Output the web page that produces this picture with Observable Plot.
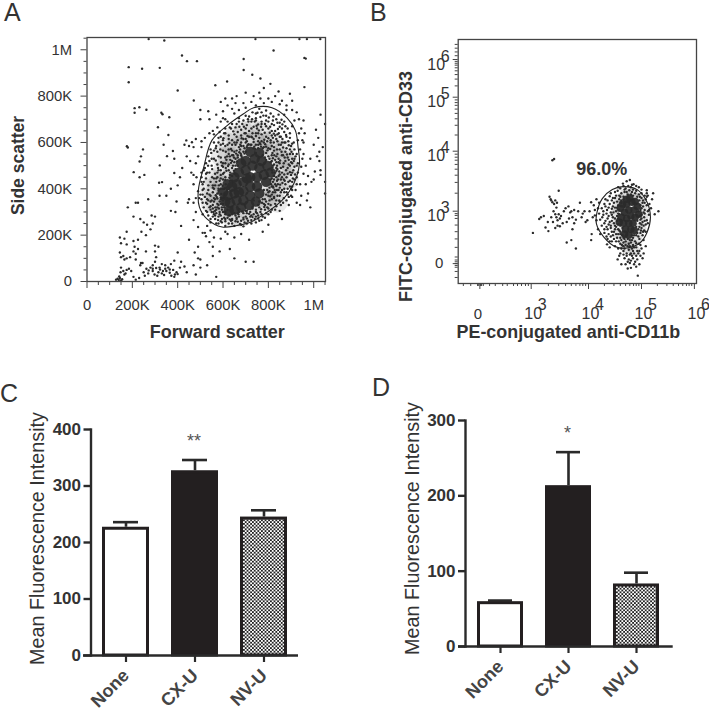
<!DOCTYPE html>
<html><head><meta charset="utf-8">
<script src="https://cdn.jsdelivr.net/npm/d3@7"></script>
<script src="https://cdn.jsdelivr.net/npm/@observablehq/plot@0.6"></script>
<style>
html,body{margin:0;padding:0;background:#fff}
#page{position:relative;width:709px;height:711px;overflow:hidden;font-family:"Liberation Sans",sans-serif}
.panel{position:absolute}
.letter{position:absolute;font-size:25px;color:#333;line-height:25px}
</style></head><body><div id="page"></div>
<script>
// Panel A: forward scatter / side scatter, read in thousands
const aTicks=[0,200,400,600,800,1000];
const aTickLabels=["0","200K","400K","600K","800K","1M"];
const aMinorTicks=[50,100,150,250,300,350,450,500,550,650,700,750,850,900,950,1050];
const aGate=[[735,750],[816,750],[882,706],[919,652],[931,580],[937,508],[912,422],[860,350],[794,299],[721,256],[662,242],[596,235],[529,270],[496,321],[491,393],[515,494],[551,609],[618,673],[691,724]];
const aHalo=[[700,600],[740,610],[780,600],[660,580],[620,540],[640,500],[600,480],[580,430],[560,380],[570,330],[600,300],[640,275],[680,275],[720,295],[760,310],[800,345],[830,390],[850,430],[860,480],[850,530],[830,570],[810,610],[770,650],[730,660],[690,650],[650,630],[880,520],[870,570],[590,540],[620,600],[700,540],[650,540],[760,570],[800,550],[600,420],[820,450],[800,400],[790,360],[610,330],[560,440],[540,400],[545,340],[900,500],[890,440],[840,340]];
const aCore=[[700,480],[730,500],[760,490],[720,450],[750,450],[690,430],[660,420],[720,410],[690,390],[650,380],[620,370],[660,350],[630,340],[690,350],[720,370],[750,410],[780,460],[740,530],[700,520],[670,470],[640,410],[610,345],[650,310],[680,320],[715,330],[600,385],[770,520],[790,430],[760,380],[650,450],[680,510],[720,560],[760,555],[795,500],[620,420],[745,345],[625,305],[810,470],[670,385],[705,445]];
const aLow=[[140,7],[135,12],[145,15],[150,5],[128,8],[155,10],[142,22],[148,40],[160,45],[170,35],[175,50],[185,55],[150,60],[165,30],[195,45],[205,20],[230,15],[215,8],[250,40],[262,55],[270,35],[280,60],[290,45],[298,30],[305,58],[315,40],[322,52],[330,35],[340,28],[350,45],[358,60],[365,38],[372,25],[380,50],[388,30],[395,40],[345,55],[310,25],[272,48],[255,25],[400,32],[385,20],[365,52],[335,45],[290,55],[245,80],[235,70],[150,105],[160,110],[175,100],[145,125],[165,95],[190,105],[205,130],[225,140],[215,95],[238,80],[260,130],[300,155],[315,150],[305,105],[300,85],[330,75],[345,70],[370,75],[385,90],[400,125],[415,85],[440,40],[480,30],[470,70],[500,60],[530,70],[555,110],[570,20],[490,100],[475,125],[430,65],[145,190],[165,185],[150,165],[175,160],[175,215],[210,150],[205,175],[225,180],[240,215],[260,200],[280,225],[290,250],[265,245],[250,255],[235,270],[205,280],[215,340],[180,320],[225,340],[270,355],[320,370],[285,285],[300,280],[370,305],[390,300],[415,240],[450,180],[445,340],[450,355],[490,150],[500,95],[215,120],[300,130],[290,70],[320,60],[410,60]];
const aSparse=[[272,1046],[341,1040],[743,1046],[937,1046],[970,1046],[1029,1046],[419,975],[441,951],[485,951],[823,997],[959,965],[965,962],[691,960],[184,925],[243,918],[321,922],[691,913],[729,892],[765,876],[184,860],[618,863],[566,847],[809,853],[959,839],[400,824],[471,781],[210,748],[231,752],[210,728],[262,741],[328,728],[333,722],[363,709],[176,584],[180,578],[247,570],[238,540],[232,518],[321,501],[206,472],[253,460],[232,450],[331,429],[318,426],[385,468],[338,590],[379,563],[353,541],[359,632],[313,666],[438,609],[463,601],[480,615],[450,585],[430,590],[500,740],[535,735],[500,700],[470,580],[440,540],[455,520],[420,490],[385,530],[370,400],[395,345],[350,370],[410,450],[400,415],[470,460],[505,580],[490,540],[480,510],[460,470],[505,470],[483,450],[470,420],[495,360],[470,265],[490,235],[510,210],[525,195],[545,220],[560,190],[590,185],[610,215],[630,140],[650,100],[700,85],[735,85],[540,170],[555,150],[585,130]];
const aOuter=[[945,660],[960,640],[1030,720],[1050,680],[1040,580],[1020,620],[1015,540],[1025,520],[1030,480],[1050,430],[1050,380],[1000,440],[985,530],[965,500],[955,550],[940,420],[945,370],[970,350],[985,320],[975,380],[990,430],[1030,460],[1025,560],[1010,655],[955,600],[1000,590],[955,465],[945,495],[975,455],[1005,475],[925,340],[940,330],[905,365],[890,330],[860,270],[800,245],[775,215],[715,180],[680,205],[650,190],[620,205],[590,260],[570,250],[555,280],[530,240],[520,210],[510,290],[530,300],[610,700],[590,690],[575,665],[555,650],[540,640],[520,620],[505,605],[540,700],[570,720],[600,735],[620,760],[640,745],[655,770],[670,740],[690,770],[700,750],[725,775],[745,760],[765,790],[780,770],[800,790],[815,775],[830,800],[845,820],[860,780],[880,760],[895,810],[905,780],[925,730],[935,700],[905,740],[880,740],[850,765],[870,720],[955,695],[915,695],[935,640],[950,610],[660,800],[640,790],[610,790],[590,775],[700,815],[735,800],[760,815],[780,835]];
const aBlob=[[760,745],[790,738],[730,730],[810,725],[845,720],[715,712],[765,710],[835,700],[870,690],[690,695],[740,690],[790,695],[815,680],[660,680],[705,675],[755,678],[850,668],[885,660],[635,660],[680,655],[725,660],[775,655],[800,660],[830,650],[870,645],[610,640],[650,635],[695,640],[745,640],[715,625],[770,635],[790,625],[815,630],[855,625],[895,620],[580,620],[625,615],[665,610],[700,600],[735,615],[755,605],[780,600],[810,600],[840,605],[870,600],[905,595],[590,590],[560,600],[610,585],[640,590],[670,580],[695,575],[725,590],[800,575],[825,580],[850,570],[880,575],[915,570],[545,570],[575,560],[600,565],[625,550],[650,560],[665,545],[815,545],[840,550],[865,545],[895,550],[920,540],[535,540],[560,530],[590,535],[615,525],[640,520],[655,500],[830,525],[850,510],[875,520],[905,510],[925,500],[525,510],[550,500],[575,505],[600,495],[625,480],[640,490],[840,485],[860,470],[885,490],[910,480],[515,480],[540,470],[565,465],[590,460],[610,450],[630,460],[835,450],[855,440],[880,450],[900,460],[525,445],[505,430],[545,430],[570,430],[590,420],[605,400],[830,420],[850,405],[875,420],[895,410],[515,400],[535,395],[560,400],[580,400],[830,385],[850,370],[870,385],[500,375],[520,365],[545,370],[565,355],[585,345],[795,395],[815,355],[835,350],[510,340],[530,335],[555,330],[575,320],[595,320],[790,345],[810,330],[525,305],[550,300],[570,295],[590,285],[610,290],[640,270],[670,280],[705,295],[735,290],[765,300],[785,310],[545,270],[565,270],[595,255],[625,250],[655,260],[680,245],[710,262],[740,270],[760,262],[800,290],[830,310],[855,330],[480,300],[470,340],[490,390],[480,360],[600,705],[650,725],[670,705],[620,690],[585,645],[560,635],[905,670],[930,610],[950,530],[940,570],[965,420],[925,450],[920,395],[900,370],[880,350],[850,305],[905,430],[600,610],[620,590],[645,545],[680,600],[650,600],[700,640],[660,625],[730,640],[760,620],[745,590],[775,575],[790,555],[825,505],[815,410],[805,390],[775,355],[795,320],[760,320],[720,300],[690,295],[655,285],[620,275],[585,300],[575,335],[560,360],[575,380],[590,400],[560,445],[590,480],[610,510],[630,540],[690,560],[665,535],[655,530],[605,320],[640,290],[700,280],[745,310],[815,445],[830,470],[845,530],[865,495],[885,465],[895,435],[870,400],[855,385],[840,370],[905,530],[890,525],[875,560],[855,590],[835,615],[815,650],[790,670],[770,690],[745,705],[725,690],[700,660],[680,630],[690,615],[715,650],[770,605],[755,640],[810,610],[825,565],[860,545],[850,625],[790,715],[770,730],[745,725],[825,675],[840,685],[860,660],[880,625],[900,585],[915,530],[930,470],[925,420],[900,400],[885,375],[865,340],[835,325],[815,310],[775,280],[755,285],[725,265],[695,255],[665,258],[640,250],[610,260],[580,280],[555,315],[530,355],[515,430],[530,470],[550,530],[570,585],[590,625],[610,660],[640,680],[670,690],[700,715],[640,610],[625,630],[600,595],[580,540],[600,510],[580,480],[565,415],[545,345],[560,290],[750,660],[830,630],[895,500]];
const aBlob2=[[752,728],[778,716],[802,708],[822,712],[858,698],[728,700],[748,672],[768,668],[785,680],[808,668],[842,658],[862,678],[878,632],[672,668],[692,668],[712,690],[735,668],[758,652],[784,642],[806,642],[824,638],[846,640],[862,615],[888,605],[645,648],[665,645],[682,618],[708,628],[728,622],[745,628],[782,612],[800,618],[824,600],[846,590],[865,578],[890,588],[902,560],[602,618],[628,598],[655,590],[676,590],[708,588],[735,602],[765,592],[790,582],[815,585],[838,570],[858,560],[882,548],[908,550],[568,575],[588,570],[612,560],[635,572],[660,565],[678,552],[820,532],[835,540],[852,522],[872,535],[890,505],[912,520],[548,555],[568,522],[592,515],[618,540],[635,512],[648,478],[818,492],[838,500],[868,510],[895,472],[918,462],[534,500],[552,485],[578,490],[605,470],[622,498],[630,435],[825,440],[845,455],[870,462],[888,430],[908,445],[525,465],[552,450],[575,450],[600,440],[618,395],[822,405],[842,420],[862,425],[885,400],[905,395],[510,420],[535,415],[555,415],[582,415],[595,360],[815,375],[838,395],[860,395],[880,385],[510,375],[530,380],[555,385],[572,365],[590,335],[800,370],[825,365],[848,350],[868,360],[505,355],[535,350],[550,350],[582,315],[785,330],[805,350],[830,335],[850,345],[515,320],[540,320],[565,305],[600,300],[630,285],[665,295],[690,275],[720,280],[750,295],[770,290],[790,295],[810,300],[535,285],[558,300],[578,265],[605,275],[635,262],[660,270],[680,262],[705,272],[730,278],[755,272],[785,275],[545,255],[580,250],[610,240],[650,240],[690,238],[725,250],[620,310],[640,320],[615,405],[635,390],[600,350],[790,525],[805,530],[780,580],[705,580],[675,570],[650,515],[640,455],[815,480],[800,385],[780,335],[730,315],[670,300],[755,590],[725,625],[700,615],[795,605],[820,620],[840,635],[875,600],[860,600],[895,570],[885,535],[900,515],[915,495],[905,470],[878,480],[868,440],[845,395],[825,360],[800,315],[770,265],[745,255],[705,250],[675,248],[630,268],[595,270],[565,285],[545,310],[525,340],[510,395],[505,450],[520,490],[540,520],[560,565],[580,600],[605,640],[630,665],[655,665],[685,680],[710,700],[745,695],[770,680],[800,690],[820,695],[850,685],[875,670],[895,640],[912,600],[925,550],[930,510],[915,440],[905,410],[890,365]];
const aBlob3=[[690,585],[712,592],[738,582],[762,598],[786,592],[808,572],[672,558],[695,552],[742,572],[768,582],[796,566],[818,555],[640,545],[658,552],[682,538],[800,540],[826,545],[845,515],[632,525],[648,535],[662,518],[810,515],[835,515],[855,490],[612,490],[625,505],[644,500],[818,470],[836,478],[850,462],[600,465],[615,478],[632,470],[825,455],[842,440],[610,438],[590,445],[628,448],[820,430],[835,412],[598,412],[585,435],[612,420],[812,420],[828,395],[580,392],[592,378],[568,372],[805,405],[820,385],[575,358],[590,362],[560,345],[790,375],[808,368],[580,330],[566,320],[600,335],[785,355],[800,335],[595,310],[585,290],[610,300],[772,340],[782,322],[610,270],[625,285],[640,265],[755,330],[768,312],[650,295],[668,290],[685,302],[730,322],[745,300],[700,305],[715,292],[660,275],[690,268],[725,285],[745,280],[720,590],[755,575],[705,605],[680,585],[660,600],[640,565],[625,570],[610,535],[595,500],[575,470],[570,445],[555,405],[540,375],[545,325],[570,310],[820,500],[835,490],[848,475],[860,450],[872,435],[852,418],[838,435],[785,535],[775,545],[745,555],[735,575],[700,560],[680,545],[665,500],[655,485],[650,465],[640,435],[625,400],[610,375],[600,360],[760,345],[780,395],[810,440],[800,455],[815,520],[760,535],[668,445],[640,360],[600,400],[590,355],[785,480],[820,410],[650,335],[735,350],[705,305],[672,312]];
// Panel B: CD11b / CD33 positions, read as axis decades
const bDecadesX=[3,4,5,6];
const bDecadesY=[3,4,5,6];
const bZeroX=2.1;
const bZeroY=2.13;
const bMinorX=[1.81,1.94,2.06,2.08,2.11,2.13,2.16,2.27,2.37,2.5,2.58,2.69,2.76,2.83,2.9,2.95,3.3,3.48,3.6,3.7,3.78,3.85,3.9,3.95,4.3,4.48,4.6,4.7,4.78,4.85,4.9,4.95,5.3,5.48,5.6,5.7,5.78,5.85,5.9,5.95];
const bMinorY=[1.9,2.0,2.07,2.1,2.13,2.16,2.19,2.24,2.4,2.54,2.66,2.77,2.88,2.93,2.96,3.3,3.48,3.6,3.7,3.78,3.85,3.9,3.95,4.3,4.48,4.6,4.7,4.78,4.85,4.9,4.95,5.3,5.48,5.6,5.7,5.78,5.85,5.9,5.95,6.1,6.2,6.3,6.4];
const bGate=[[4.654,3.41],[4.918,3.36],[5.106,3.15],[5.169,2.9],[5.106,2.65],[4.98,2.48],[4.73,2.39],[4.51,2.41],[4.29,2.57],[4.15,2.79],[4.16,2.98],[4.26,3.21],[4.45,3.36]];
const bHalo=[[4.6,3.2],[4.7,3.28],[4.82,3.3],[4.95,3.2],[5.0,3.05],[5.02,2.9],[4.98,2.72],[4.9,2.55],[4.8,2.45],[4.68,2.48],[4.58,2.62],[4.52,2.78],[4.52,2.95],[4.55,3.08],[4.72,2.4],[4.86,2.35]];
const bCore=[[4.72,3.12],[4.82,3.15],[4.76,3.02],[4.86,3.02],[4.68,2.98],[4.8,2.92],[4.72,2.88],[4.88,2.9],[4.66,2.8],[4.76,2.8],[4.84,2.8],[4.7,2.7],[4.8,2.7],[4.76,2.6],[4.68,2.62],[4.92,3.08],[4.62,2.9],[4.95,2.95],[4.78,3.22],[4.86,2.68],[4.6,3.05],[4.64,3.12],[4.58,2.82],[4.88,3.16],[4.72,3.2]];
const bTail=[[3.03,2.64],[3.14,2.87],[3.17,2.9],[3.22,2.92],[3.25,2.73],[3.29,2.82],[3.3,2.67],[3.32,3.24],[3.34,3.2],[3.35,3.18],[3.37,3.15],[3.4,3.12],[3.42,3.18],[3.45,3.14],[3.48,3.34],[3.39,3.0],[3.42,2.95],[3.44,2.9],[3.46,2.85],[3.48,2.95],[3.5,2.88],[3.52,2.92],[3.55,2.8],[3.46,2.76],[3.5,2.75],[3.42,2.72],[3.38,2.82],[3.35,2.9],[3.6,3.05],[3.65,3.08],[3.68,2.98],[3.7,3.0],[3.72,2.9],[3.62,2.82],[3.66,2.88],[3.75,2.8],[3.78,2.86],[3.72,2.7],[3.62,2.48],[3.7,2.52],[3.78,2.38],[3.82,3.0],[3.85,3.14],[3.88,2.9],[3.9,2.96],[3.93,3.0],[3.95,2.82],[3.98,2.85],[4.02,3.0],[4.05,3.15],[4.08,2.9],[4.1,3.1],[4.12,2.93],[4.05,2.52],[4.06,2.62],[4.15,3.2],[4.18,3.05],[3.37,3.85],[3.4,3.87],[3.57,3.0],[3.44,3.06],[3.75,3.02]];
const bBlob=[[4.93,1.93],[4.72,3.5],[4.78,3.52],[4.65,3.46],[4.85,3.45],[4.95,3.4],[5.1,3.35],[4.6,3.38],[4.7,3.38],[4.8,3.4],[4.9,3.34],[5.0,3.3],[4.5,3.32],[4.62,3.3],[4.72,3.32],[4.82,3.32],[4.92,3.24],[5.0,3.22],[5.08,3.2],[5.2,3.2],[4.4,3.25],[4.5,3.22],[4.58,3.2],[4.66,3.24],[4.84,3.26],[5.02,3.14],[5.1,3.1],[4.3,3.12],[4.4,3.12],[4.48,3.14],[4.56,3.1],[4.62,3.14],[5.0,3.05],[5.06,3.02],[5.12,3.0],[5.25,2.95],[4.25,3.05],[4.35,3.02],[4.44,3.04],[4.52,3.0],[4.58,3.02],[5.0,2.94],[5.05,2.9],[5.1,2.85],[4.2,2.96],[4.28,2.94],[4.38,2.92],[4.46,2.9],[4.54,2.92],[4.6,2.84],[5.02,2.82],[5.08,2.78],[4.22,2.86],[4.32,2.84],[4.4,2.82],[4.48,2.8],[4.56,2.78],[5.0,2.72],[5.05,2.68],[4.25,2.76],[4.34,2.74],[4.42,2.72],[4.5,2.7],[4.58,2.68],[4.98,2.64],[5.02,2.6],[4.3,2.64],[4.38,2.62],[4.46,2.6],[4.52,2.62],[4.6,2.56],[4.96,2.54],[4.36,2.54],[4.44,2.5],[4.52,2.5],[4.6,2.46],[4.7,2.5],[4.8,2.48],[4.88,2.5],[4.95,2.46],[4.5,2.42],[4.56,2.38],[4.66,2.42],[4.74,2.42],[4.82,2.38],[4.9,2.4],[5.0,2.38],[5.08,2.42],[4.6,2.3],[4.66,2.34],[4.72,2.3],[4.8,2.3],[4.86,2.3],[4.94,2.3],[5.04,2.3],[4.55,2.2],[4.68,2.22],[4.76,2.2],[4.84,2.22],[4.92,2.2],[5.02,2.22],[4.7,2.12],[4.78,2.14],[4.86,2.12],[4.96,2.12],[4.74,2.05],[4.8,2.06],[4.9,2.08],[4.62,2.12],[4.4,2.4],[4.35,2.45],[5.1,3.3],[5.06,3.26],[5.15,3.12],[5.18,3.05],[5.32,3.0],[5.22,3.3],[4.96,3.18],[4.68,3.06],[4.58,2.95],[4.64,2.72],[4.54,2.84],[4.9,2.74],[4.92,2.84],[4.94,3.0],[4.88,3.12],[4.66,3.2],[4.86,2.6],[4.78,2.52],[4.7,2.58],[4.64,2.6],[4.84,2.56],[4.92,2.64],[4.46,3.08],[4.42,2.98],[4.5,3.06],[4.36,2.88],[4.42,2.76],[4.5,2.76],[4.56,2.7],[4.48,2.66],[4.74,3.28],[4.8,3.28],[4.68,3.32],[4.75,3.42],[4.84,3.36],[4.95,3.28],[5.03,3.08],[4.98,3.1],[4.7,2.44],[4.76,2.36],[4.84,2.44],[4.62,2.52],[4.56,2.62],[4.96,2.74],[5.06,2.96],[5.04,2.76],[4.58,3.26],[4.54,3.16],[5.1,3.24],[5.14,2.94],[4.98,2.86],[4.6,2.66],[4.66,2.48],[4.74,2.16],[4.82,2.26],[4.88,2.16],[4.98,2.26],[4.58,2.26]];
const bBlob2=[[4.55,3.34],[4.68,3.36],[4.77,3.35],[4.88,3.3],[4.97,3.24],[5.06,3.14],[4.44,3.18],[4.52,3.26],[4.6,3.24],[4.54,3.06],[4.47,2.98],[4.5,2.88],[4.44,2.84],[4.52,2.74],[4.44,2.66],[4.54,2.56],[4.48,2.54],[4.57,2.5],[4.63,2.44],[4.68,2.54],[4.76,2.46],[4.82,2.52],[4.9,2.47],[4.94,2.58],[4.99,2.68],[5.03,2.66],[5.0,2.78],[5.06,2.84],[5.0,2.88],[5.04,2.98],[4.98,3.02],[5.03,3.18],[4.56,2.96],[4.6,2.76],[4.56,2.88],[4.6,2.62],[4.62,3.18],[4.97,2.92],[4.97,2.8],[4.94,2.7],[4.9,2.6],[4.82,2.6],[4.74,2.54],[4.66,2.56],[4.68,2.38],[4.78,2.42],[4.86,2.4],[4.92,2.34],[4.72,2.26],[4.78,2.28],[4.66,2.28],[4.84,2.34],[4.8,2.18],[4.9,2.26],[4.96,2.34],[4.62,2.38],[4.28,3.0],[4.34,2.96],[4.32,3.08],[4.38,3.06],[4.26,2.9],[4.3,2.8],[4.38,2.78],[4.44,2.94],[4.36,2.7],[4.3,2.7],[4.34,2.58],[4.42,2.58],[4.4,2.5],[4.46,3.22],[4.36,3.18],[4.32,3.2],[4.42,3.3],[4.56,3.4],[4.66,3.42],[4.82,3.44],[4.9,3.42],[5.0,3.36],[5.12,3.26],[5.14,3.02],[5.12,2.8],[5.08,2.66],[5.04,2.52],[4.98,2.44],[4.15,2.85],[4.12,3.02],[4.2,3.14],[4.18,2.7],[4.22,2.62]];
const bGateLabel=["96.0%"];
// Panels C and D: mean fluorescence intensity
const categories=["None","CX-U","NV-U"];
const barFills=["#ffffff","#231f20","url(#chk)"];
const cValues=[227,327,245];
const cErrors=[236,346,257];
const dValues=[59.5,213.5,83];
const dErrors=[61,258,98];
const cTicks=[0,100,200,300,400];
const dTicks=[0,100,200,300];
const yTitle="Mean Fluorescence Intensity";
const FONT="Liberation Sans";
const INK="#333";
const page=document.getElementById("page");
function place(el,left,top){el.classList&&el.classList.add("panel");el.style.left=left+"px";el.style.top=top+"px";page.appendChild(el);}
function letter(t,left,top){const d=document.createElement("div");d.className="letter";d.textContent=t;d.style.left=left+"px";d.style.top=top+"px";page.appendChild(d);}
const dots=(arr,o={})=>Plot.dot(arr,{x:d=>d[0],y:d=>d[1],r:1.2,fill:"#2b2b2b",stroke:"none",...o});

// Panel A
const chartA=Plot.plot({width:355,height:350,marginLeft:86.5,marginRight:30,marginTop:37,marginBottom:69,
 style:{fontFamily:FONT,background:"transparent"},
 x:{domain:[0,1052],label:null},y:{domain:[0,1053],label:null},
 marks:[
  dots(aHalo,{r:10,fillOpacity:.1}),dots(aCore,{r:5.2,fillOpacity:.92}),dots(aBlob),dots(aBlob2),dots(aBlob3),dots(aOuter),dots(aLow),dots(aSparse),
  Plot.line(aGate,{x:d=>d[0],y:d=>d[1],curve:"catmull-rom-closed",stroke:"#222",strokeWidth:1.1}),
  Plot.frame({stroke:"#444",strokeWidth:1.3}),
  Plot.axisX({ticks:aMinorTicks,tickSize:4,fill:"none",stroke:"#444"}),
  Plot.axisY({ticks:aMinorTicks,tickSize:3,fill:"none",stroke:"#444"}),
  Plot.axisX({ticks:aTicks,tickSize:7,fill:"none",stroke:"#444"}),
  Plot.axisY({ticks:aTicks,tickSize:6,fill:"none",stroke:"#444"}),
  Plot.text(aTicks,{x:d=>d,text:d=>aTickLabels[aTicks.indexOf(d)],frameAnchor:"bottom",dy:28,dx:0,fontSize:14.8,fill:INK}),
  Plot.text(aTicks,{y:d=>d,text:d=>aTickLabels[aTicks.indexOf(d)],frameAnchor:"left",textAnchor:"end",dx:-15,fontSize:14.8,fill:INK}),
  Plot.text(["Forward scatter"],{frameAnchor:"bottom",dx:11,dy:56,fontSize:18,fontWeight:"bold",fill:INK}),
  Plot.text(["Side scatter"],{frameAnchor:"left",textAnchor:"middle",rotate:-90,dx:-69,dy:6,fontSize:17.5,fontWeight:"bold",fill:INK})
 ]});
place(chartA,0,0);

// Panel B
const bL=457.7-355,bR=696-355;
const chartB=Plot.plot({width:354,height:350,marginLeft:bL,marginRight:354-bR,marginTop:39,marginBottom:67,
 style:{fontFamily:FONT,background:"transparent"},
 x:{type:"linear",domain:[1.72,3,4,5,6.04],range:[bL,530.7-355,588-355,641-355,bR],label:null},
 y:{type:"linear",domain:[1.8,3,4,5,6.53],range:[283,210.7,150.7,96.7,39],label:null},
 marks:[
  dots(bHalo,{r:6,fillOpacity:.14}),dots(bCore,{r:3.8,fillOpacity:.95}),dots(bBlob),dots(bBlob2),dots(bTail),
  Plot.line(bGate,{x:d=>d[0],y:d=>d[1],curve:"catmull-rom-closed",stroke:"#222",strokeWidth:1.1}),
  Plot.frame({stroke:"#444",strokeWidth:1.3}),
  Plot.axisX({ticks:bMinorX,tickSize:3,fill:"none",stroke:"#444"}),
  Plot.axisY({ticks:bMinorY,tickSize:3,fill:"none",stroke:"#444"}),
  Plot.axisX({ticks:[bZeroX,...bDecadesX],tickSize:6,fill:"none",stroke:"#444"}),
  Plot.axisY({ticks:[bZeroY,...bDecadesY],tickSize:5,fill:"none",stroke:"#444"}),
  Plot.text(["0"],{x:()=>bZeroX,frameAnchor:"bottom",dy:35,dx:-2,fontSize:15,fill:INK}),
  Plot.text(bDecadesX,{x:d=>d,text:()=>"10",frameAnchor:"bottom",dy:35,dx:2,fontSize:16,fill:INK}),
  Plot.text(bDecadesX,{x:d=>d,text:d=>String(d),frameAnchor:"bottom",dy:26,dx:11,fontSize:16,fill:INK}),
  Plot.text(["0"],{y:()=>bZeroY,frameAnchor:"left",textAnchor:"middle",dx:-19,fontSize:15,fill:INK}),
  Plot.text(bDecadesY,{y:d=>d,text:()=>"10",frameAnchor:"left",textAnchor:"middle",dx:-22,dy:5,fontSize:16,fill:INK}),
  Plot.text(bDecadesY,{y:d=>d,text:d=>String(d),frameAnchor:"left",textAnchor:"middle",dx:-13,dy:-3,fontSize:16,fill:INK}),
  Plot.text(bGateLabel,{x:()=>4.25,y:()=>3.7,fontSize:18,fontWeight:"bold",fill:INK}),
  Plot.text(["PE-conjugated anti-CD11b"],{frameAnchor:"bottom",dx:-9,dy:54,fontSize:17.9,fontWeight:"bold",fill:INK}),
  Plot.text(["FITC-conjugated anti-CD33"],{frameAnchor:"left",textAnchor:"middle",rotate:-90,dx:-52,dy:25,fontSize:18,fontWeight:"bold",fill:INK})
 ]});
place(chartB,355,0);

// Panels C and D
function barChart({values,errors,ticks,maxY,star,starY,marginLeft,marginRight,marginTop,marginBottom,width,insetL,insetR,titleDx,titleDy}){
 const idx=d3.range(categories.length);
 const chart=Plot.plot({width,height:341,marginLeft,marginRight,marginTop,marginBottom,
  style:{fontFamily:FONT,background:"transparent"},
  x:{type:"band",domain:categories,paddingInner:.32,paddingOuter:.16,label:null},
  y:{domain:[0,maxY],label:null},
  marks:[
   Plot.ruleX(idx,{x:i=>categories[i],y1:i=>values[i],y2:i=>errors[i],stroke:"#2a2a2a",strokeWidth:2.6}),
   Plot.tickY(idx,{x:i=>categories[i],y:i=>errors[i],stroke:"#2a2a2a",strokeWidth:2.6,insetLeft:11,insetRight:11}),
   Plot.barY(idx,{x:i=>categories[i],y:i=>values[i],fill:i=>barFills[i],stroke:"#231f20",strokeWidth:3,insetLeft:1.5,insetRight:1.5,insetTop:1.5}),
   Plot.ruleY([0],{stroke:"#2a2a2a",strokeWidth:2.4,insetLeft:-insetL,insetRight:-insetR}),
   Plot.frame({anchor:"left",stroke:"#2a2a2a",strokeWidth:2.4}),
   Plot.axisY({ticks,tickSize:7,tickPadding:3,label:null,fontSize:17,fontWeight:"bold",color:"#333",strokeWidth:2.4,stroke:"#2a2a2a"}),
   Plot.axisX({tickSize:7,tickPadding:10,tickRotate:-45,label:null,fontSize:18,fontWeight:"bold",color:"#444",strokeWidth:2.2,stroke:"#2a2a2a"}),
   Plot.text([star],{x:()=>"CX-U",y:()=>starY,dx:-1,fontSize:18,fill:"#555"}),
   Plot.text([yTitle],{frameAnchor:"left",textAnchor:"middle",rotate:-90,dx:titleDx,dy:titleDy,fontSize:19.8,fill:"#333"})
  ]});
 chart.insertAdjacentHTML("afterbegin",'<defs><pattern id="chk" width="3.6" height="3.6" patternUnits="userSpaceOnUse"><rect width="3.6" height="3.6" fill="#fff"/><rect width="1.8" height="1.8" fill="#222"/><rect x="1.8" y="1.8" width="1.8" height="1.8" fill="#222"/></pattern></defs>');
 return chart;
}
place(barChart({values:cValues,errors:cErrors,ticks:cTicks,maxY:400,star:"**",starY:380,width:355,marginLeft:90.5,marginRight:57.5,marginTop:59,marginBottom:56,insetL:7.5,insetR:.5,titleDx:-53,titleDy:-4}),0,370);
place(barChart({values:dValues,errors:dErrors,ticks:dTicks,maxY:300,star:"*",starY:283,width:354,marginLeft:110,marginRight:37.6,marginTop:50,marginBottom:65,insetL:7,insetR:1.3,titleDx:-53,titleDy:-5}),355,370);

letter("A",4,0);letter("B",370,0);letter("C",0,381);letter("D",372,375);
</script></body></html>
